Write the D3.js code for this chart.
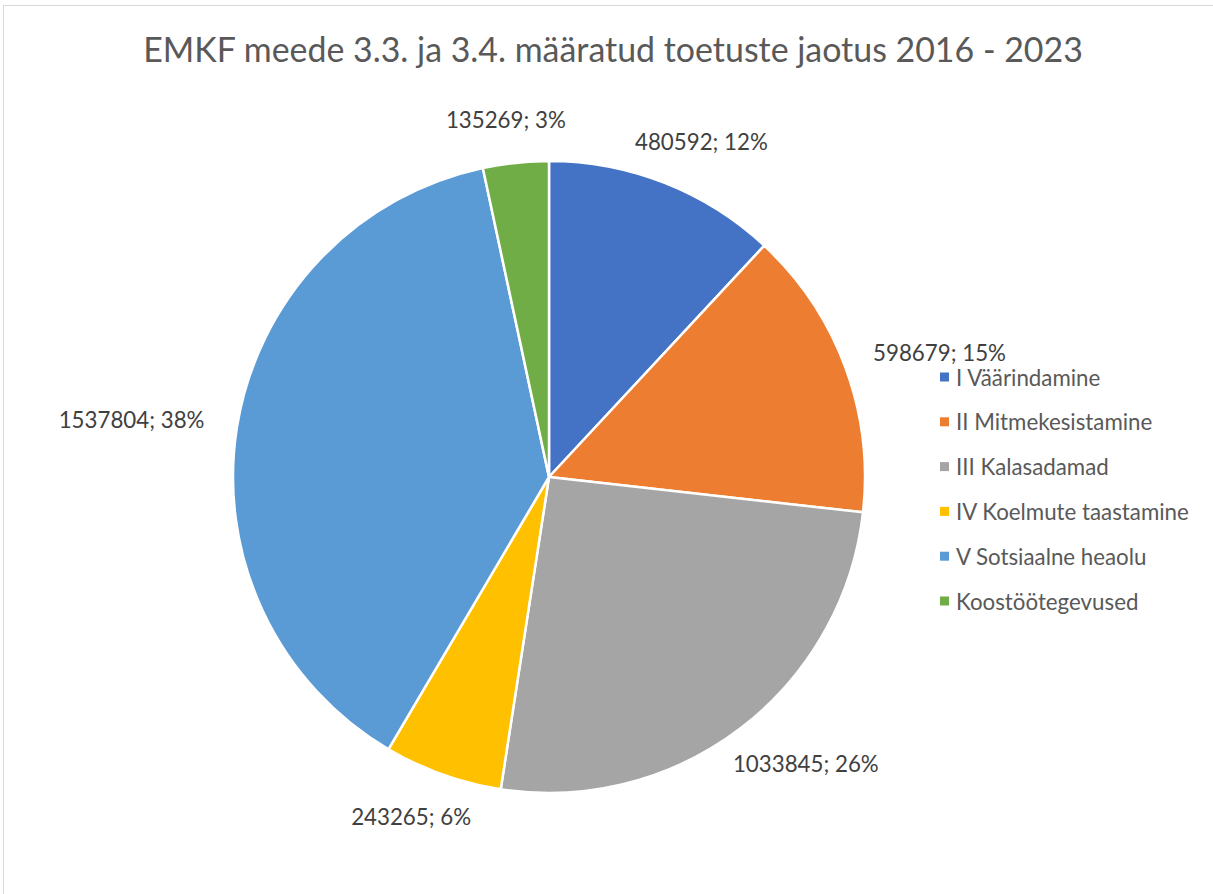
<!DOCTYPE html>
<html><head><meta charset="utf-8">
<script src="https://cdn.jsdelivr.net/npm/d3@7"></script>
<style>
html,body{margin:0;padding:0;background:#fff;}
svg{display:block;font-family:Lato, "Open Sans", sans-serif;}
</style></head>
<body>
<svg id="chart" width="1213" height="894"></svg>
<script>
const title = "EMKF meede 3.3. ja 3.4. määratud toetuste jaotus 2016 - 2023";
const categories = ["I Väärindamine","II Mitmekesistamine","III Kalasadamad","IV Koelmute taastamine","V Sotsiaalne heaolu","Koostöötegevused"];
const values = [480592, 598679, 1033845, 243265, 1537804, 135269];
const percentLabels = ["12%","15%","26%","6%","38%","3%"];
const colors = ["#4472C4","#ED7D31","#A5A5A5","#FFC000","#5B9BD5","#70AD47"];

const svg = d3.select("#chart");

svg.append("rect").attr("x",3.5).attr("y",5.5).attr("width",1230).attr("height",920)
  .attr("fill","#fff").attr("stroke","#d9d9d9").attr("stroke-width",1);

const t = svg.append("text").attr("x",613).attr("y",62).attr("text-anchor","middle")
  .attr("fill","#595959").attr("font-size",28).text(title);
const tw = t.node().getComputedTextLength();
t.attr("font-size", 28*940/tw);

// measure a font size for the smaller texts so widths match the reference
const probe = svg.append("text").attr("font-size",20).text("IV Koelmute taastamine");
const pw = probe.node().getComputedTextLength();
probe.remove();
const smallFont = 20*233/pw;

const cx = 549, cy = 477, R = 316;
const data = categories.map((c,i)=>({cat:c, value:values[i], pct:percentLabels[i], color:colors[i]}));
const pie = d3.pie().value(d=>d.value).sort(null).startAngle(0).endAngle(2*Math.PI);
const arcs = pie(data);
const arc = d3.arc().innerRadius(0).outerRadius(R);

const g = svg.append("g").attr("transform",`translate(${cx},${cy})`);
g.selectAll("path").data(arcs).join("path")
  .attr("d",arc).attr("fill",d=>d.data.color)
  .attr("stroke","#fff").attr("stroke-width",2.5).attr("stroke-linejoin","round");

const lg = g.append("g");
arcs.forEach(a=>{
  const mid = (a.startAngle+a.endAngle)/2;
  const s = Math.sin(mid), c = Math.cos(mid);
  const rr = R + 34;
  const px = rr*s, py = -rr*c;
  const txt = lg.append("text").attr("font-size",smallFont).attr("fill","#404040")
    .attr("text-anchor","middle").attr("dominant-baseline","central")
    .text(`${a.data.value}; ${a.data.pct}`);
  const w = txt.node().getComputedTextLength();
  const h = 20;
  txt.attr("x", px + s*w/2).attr("y", py - c*h/2);
});

// legend
const leg = svg.append("g").attr("transform","translate(940,377)");
const step = 44.8;
data.forEach((d,i)=>{
  const row = leg.append("g").attr("transform",`translate(0,${i*step})`);
  row.append("rect").attr("x",0).attr("y",-4.5).attr("width",9).attr("height",9).attr("fill",d.color);
  row.append("text").attr("x",16).attr("y",0).attr("dominant-baseline","central")
    .attr("font-size",smallFont).attr("fill","#595959").text(d.cat);
});
</script>
</body></html>
